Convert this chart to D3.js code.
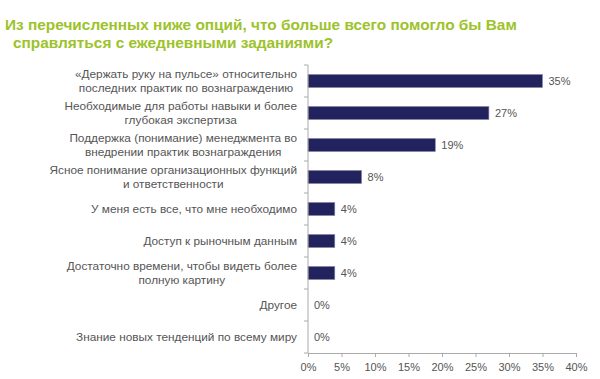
<!DOCTYPE html>
<html>
<head>
<meta charset="utf-8">
<script src="https://cdn.jsdelivr.net/npm/d3@7"></script>
<style>
  body { margin: 0; background: #fff; }
  svg { display: block; font-family: "Liberation Sans", Arial, sans-serif; }
</style>
</head>
<body>
<div id="chart"></div>
<script>
var titleLines = ["Из перечисленных ниже опций, что больше всего помогло бы Вам",
                  "справляться с ежедневными заданиями?"];

var categories = [
  ["«Держать руку на пульсе» относительно", "последних практик по вознаграждению"],
  ["Необходимые для работы навыки и более", "глубокая  экспертиза"],
  ["Поддержка (понимание) менеджмента во", "внедрении практик вознаграждения"],
  ["Ясное понимание организационных функций", "и ответственности"],
  ["У меня есть все, что мне необходимо"],
  ["Доступ к рыночным данным"],
  ["Достаточно времени, чтобы видеть более", "полную картину"],
  ["Другое"],
  ["Знание новых тенденций по всему миру"]
];
var values = [35, 27, 19, 8, 4, 4, 4, 0, 0];
var xTicks = [0, 5, 10, 15, 20, 25, 30, 35, 40];

var W = 600, H = 379;
var margin = {top: 65, left: 308, right: 24, bottom: 26},
    width  = W - margin.left - margin.right,
    height = H - margin.top - margin.bottom;

var svg = d3.select("#chart").append("svg")
    .attr("width", W).attr("height", H);

// title
svg.append("g").selectAll("text")
  .data(titleLines)
  .enter().append("text")
    .attr("x", function(d, i) { return i === 0 ? 5 : 13; })
    .attr("y", function(d, i) { return 30 + i * 18; })
    .attr("fill", "#9cc32a")
    .attr("font-weight", "bold")
    .attr("font-size", "15.4px")
    .text(function(d) { return d; });

var g = svg.append("g").attr("transform", "translate(" + margin.left + "," + margin.top + ")");

var idx = d3.range(categories.length);
var x = d3.scaleLinear().domain([0, 40]).range([0, width]);
var y = d3.scaleBand().domain(idx).range([0, height]).paddingInner(0.59).paddingOuter(0.295);

// bars
g.selectAll(".bar")
  .data(idx.filter(function(i) { return values[i] > 0; }))
  .enter().append("rect")
    .attr("class", "bar")
    .attr("x", x(0))
    .attr("y", function(i) { return y(i); })
    .attr("width", function(i) { return x(values[i]); })
    .attr("height", y.bandwidth())
    .attr("fill", "#22225e")
    .attr("stroke", "#8a8aa8")
    .attr("stroke-width", 0.6);

// value labels
g.selectAll(".val")
  .data(idx)
  .enter().append("text")
    .attr("class", "val")
    .attr("x", function(i) { return x(values[i]) + 6; })
    .attr("y", function(i) { return y(i) + y.bandwidth() / 2; })
    .attr("dy", "0.35em")
    .attr("font-size", "11px")
    .attr("fill", "#555")
    .text(function(i) { return values[i] + "%"; });

// x axis
var xAxis = g.append("g")
  .attr("transform", "translate(0," + height + ")")
  .call(d3.axisBottom(x).tickValues(xTicks).tickSize(4).tickFormat(function(d) { return d + "%"; }));
xAxis.select(".domain").attr("stroke", "#aaa");
xAxis.selectAll(".tick line").attr("stroke", "#aaa");
xAxis.selectAll("text").attr("fill", "#555").attr("font-size", "11px").attr("dy", "1.0em");

// y axis, ticks sit on the band boundaries
var step = y.step();
var y0 = y(0) - y.paddingOuter() * step - y.paddingInner() * step / 2 + y.paddingInner() * step / 2;
var yAxis = g.append("g");
yAxis.append("line")
  .attr("x1", 0).attr("x2", 0).attr("y1", 0).attr("y2", height)
  .attr("stroke", "#aaa");
yAxis.selectAll(".ytick")
  .data(d3.range(categories.length + 1))
  .enter().append("line")
    .attr("x1", -4).attr("x2", 0)
    .attr("y1", function(k) { return y0 + k * step; })
    .attr("y2", function(k) { return y0 + k * step; })
    .attr("stroke", "#aaa");

// category labels: block right-aligned, lines centred within it
var labelRight = -11;
var lab = g.selectAll(".cat")
  .data(idx)
  .enter().append("text")
    .attr("class", "cat")
    .attr("font-size", "11.8px")
    .attr("fill", "#555")
    .attr("text-anchor", "middle");

lab.each(function(i) {
  var t = d3.select(this);
  var lines = categories[i];
  var cy = y(i) + y.bandwidth() / 2;
  var lh = 13.5;
  lines.forEach(function(s, k) {
    t.append("tspan")
      .attr("y", cy + (k - (lines.length - 1) / 2) * lh)
      .attr("dy", "0.35em")
      .text(s);
  });
  var maxW = 0;
  t.selectAll("tspan").each(function() { maxW = Math.max(maxW, this.getComputedTextLength()); });
  t.selectAll("tspan").attr("x", labelRight - maxW / 2);
});
</script>
</body>
</html>
